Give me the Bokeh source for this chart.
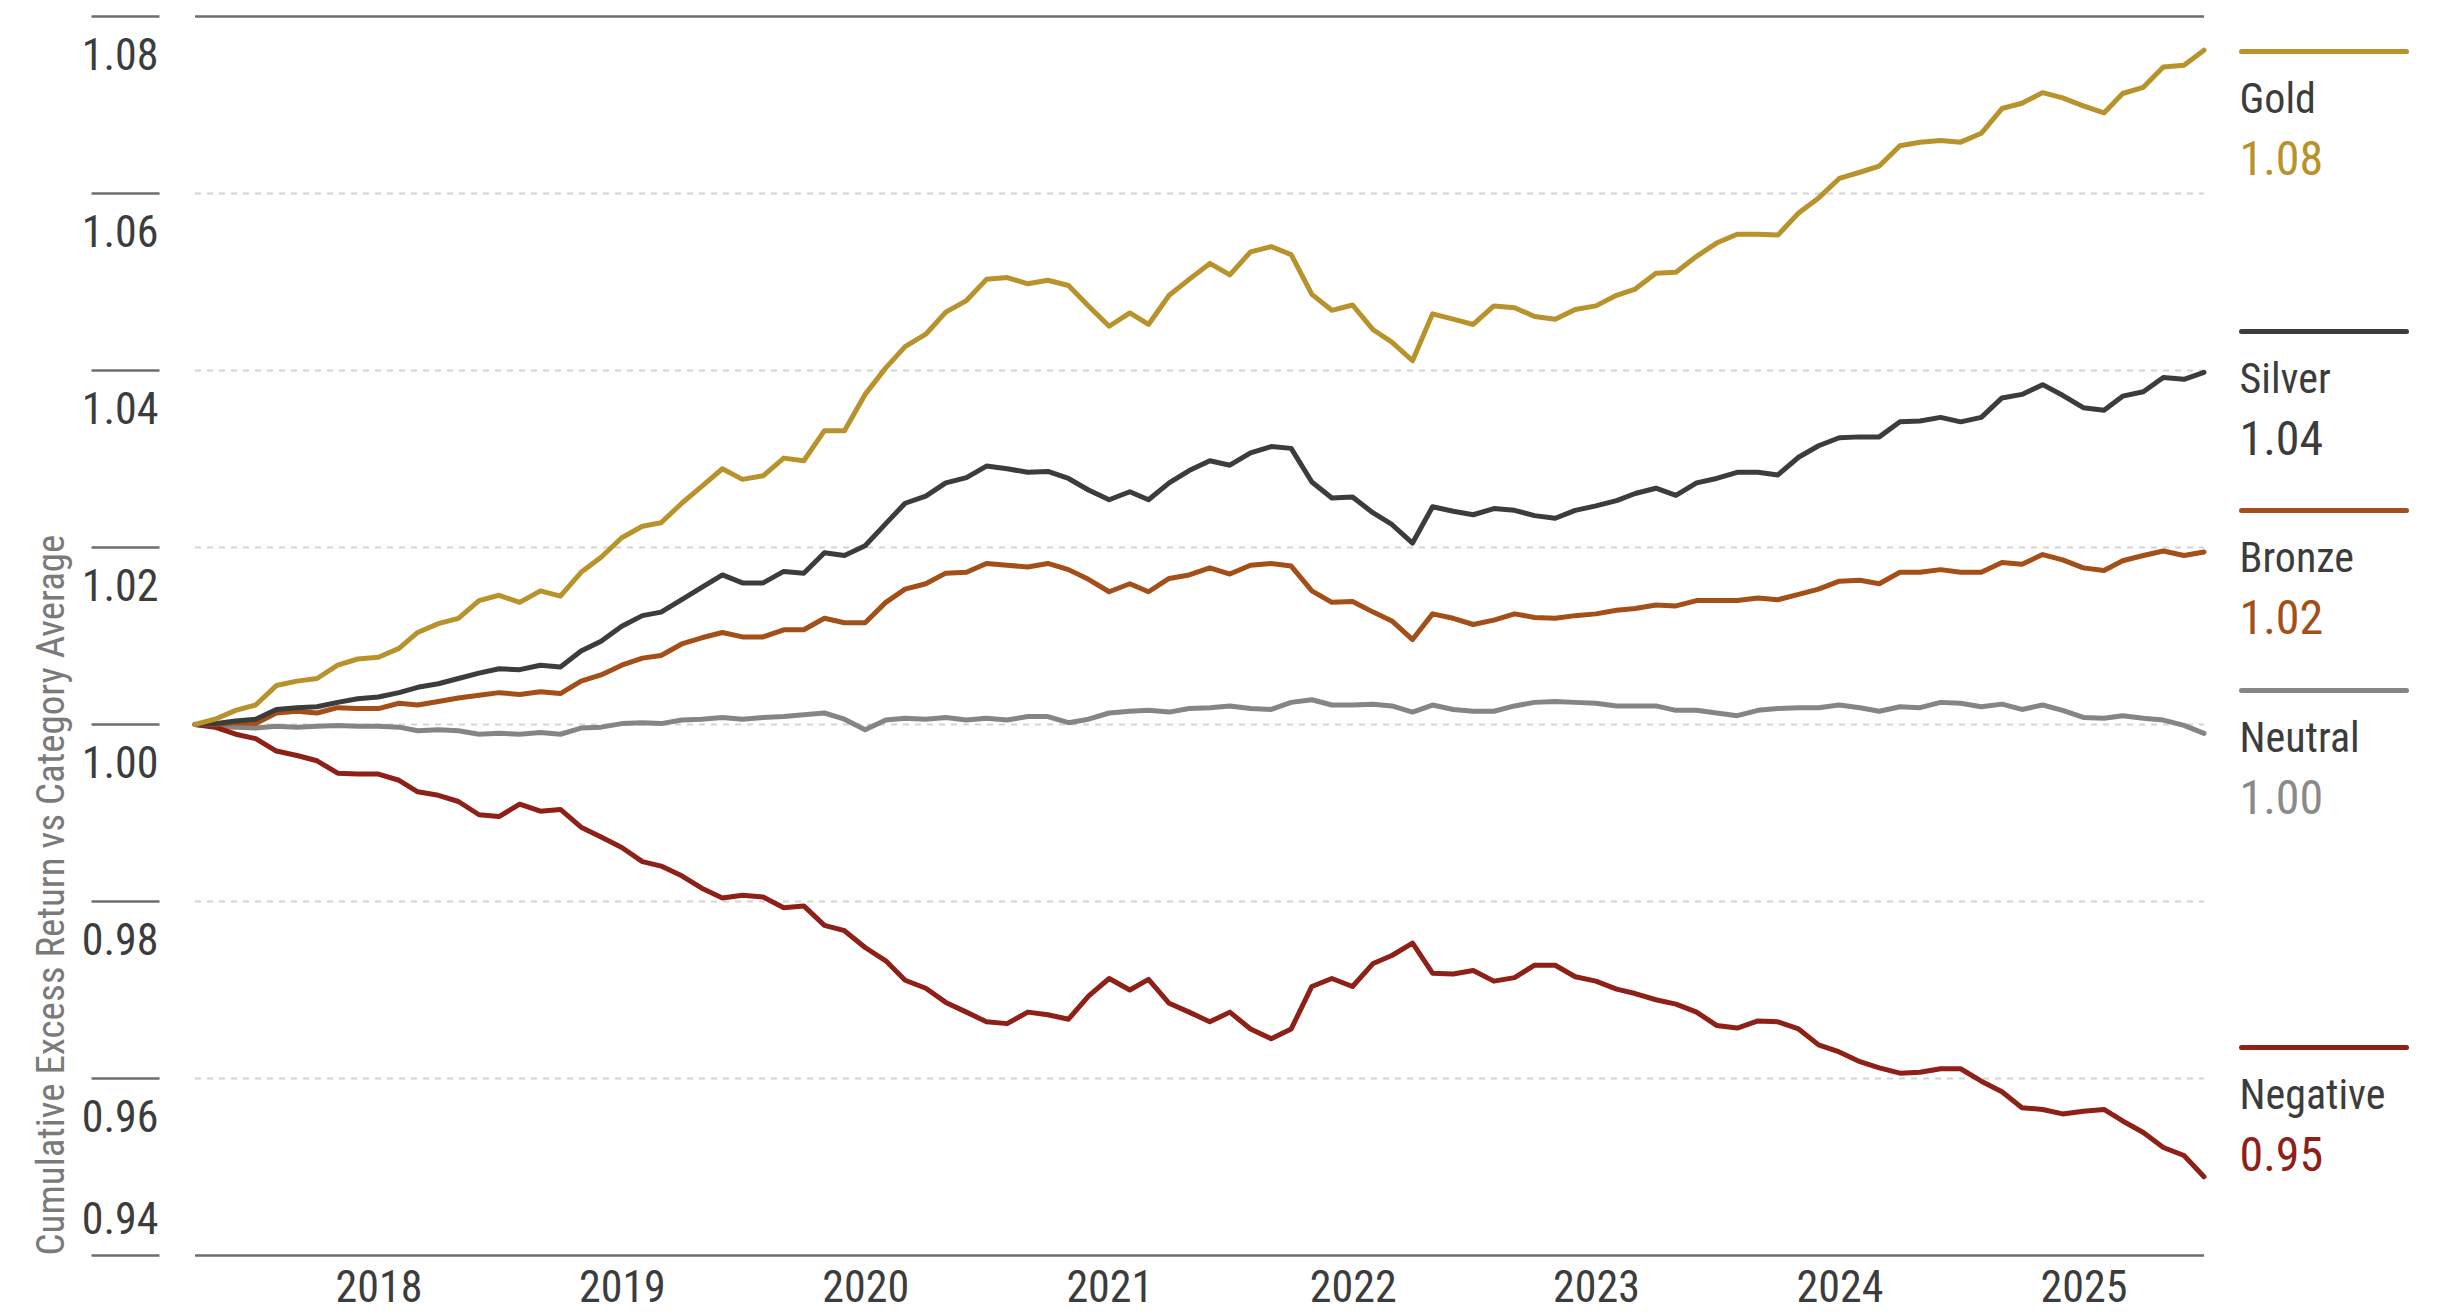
import math
import pandas as pd
from bokeh.plotting import figure
from bokeh.models import Range1d, FixedTicker, DatetimeTickFormatter
from bokeh.core.properties import value
from bokeh.embed import file_html
from bokeh.resources import INLINE

# ---------------- data ----------------
dates = pd.date_range("2017-03-31", periods=100, freq=pd.offsets.MonthEnd())

gold = [1.0000, 1.0006, 1.0016, 1.0022, 1.0044, 1.0049, 1.0052, 1.0067, 1.0074, 1.0076,
        1.0086, 1.0104, 1.0114, 1.0120, 1.0140, 1.0146, 1.0138, 1.0151, 1.0145, 1.0172,
        1.0189, 1.0211, 1.0224, 1.0228, 1.0250, 1.0269, 1.0289, 1.0277, 1.0281, 1.0301,
        1.0298, 1.0332, 1.0332, 1.0373, 1.0403, 1.0427, 1.0441, 1.0466, 1.0479, 1.0503,
        1.0505, 1.0498, 1.0502, 1.0496, 1.0473, 1.0450, 1.0465, 1.0452, 1.0485, 1.0503,
        1.0521, 1.0508, 1.0534, 1.0540, 1.0531, 1.0486, 1.0468, 1.0474, 1.0446, 1.0432,
        1.0411, 1.0464, 1.0458, 1.0452, 1.0473, 1.0471, 1.0461, 1.0458, 1.0469, 1.0473,
        1.0485, 1.0492, 1.0510, 1.0511, 1.0529, 1.0544, 1.0554, 1.0554, 1.0553, 1.0578,
        1.0595, 1.0617, 1.0624, 1.0631, 1.0654, 1.0658, 1.0660, 1.0658, 1.0668, 1.0696,
        1.0702, 1.0714, 1.0708, 1.0699, 1.0691, 1.0713, 1.0720, 1.0743, 1.0745, 1.0762]

silver = [1.0000, 1.0001, 1.0004, 1.0006, 1.0017, 1.0019, 1.0020, 1.0025, 1.0029, 1.0031,
          1.0036, 1.0042, 1.0046, 1.0052, 1.0058, 1.0063, 1.0062, 1.0067, 1.0065, 1.0083,
          1.0094, 1.0111, 1.0123, 1.0127, 1.0141, 1.0155, 1.0169, 1.0160, 1.0160, 1.0173,
          1.0171, 1.0194, 1.0191, 1.0202, 1.0227, 1.0250, 1.0258, 1.0273, 1.0279, 1.0292,
          1.0289, 1.0285, 1.0286, 1.0278, 1.0265, 1.0254, 1.0263, 1.0254, 1.0273, 1.0287,
          1.0298, 1.0293, 1.0307, 1.0314, 1.0312, 1.0274, 1.0256, 1.0257, 1.0239, 1.0226,
          1.0205, 1.0246, 1.0241, 1.0237, 1.0244, 1.0242, 1.0236, 1.0233, 1.0242, 1.0247,
          1.0253, 1.0261, 1.0267, 1.0259, 1.0273, 1.0278, 1.0285, 1.0285, 1.0282, 1.0302,
          1.0315, 1.0324, 1.0325, 1.0325, 1.0342, 1.0343, 1.0347, 1.0342, 1.0347, 1.0369,
          1.0373, 1.0384, 1.0372, 1.0358, 1.0355, 1.0371, 1.0376, 1.0392, 1.0390, 1.0398]

bronze = [1.0000, 1.0000, 1.0002, 1.0001, 1.0013, 1.0015, 1.0013, 1.0019, 1.0018, 1.0018,
          1.0024, 1.0022, 1.0026, 1.0030, 1.0033, 1.0036, 1.0034, 1.0037, 1.0035, 1.0049,
          1.0056, 1.0067, 1.0075, 1.0078, 1.0091, 1.0098, 1.0104, 1.0099, 1.0099, 1.0107,
          1.0107, 1.0120, 1.0115, 1.0115, 1.0138, 1.0153, 1.0159, 1.0171, 1.0172, 1.0182,
          1.0180, 1.0178, 1.0182, 1.0175, 1.0164, 1.0150, 1.0159, 1.0150, 1.0165, 1.0169,
          1.0177, 1.0170, 1.0180, 1.0182, 1.0179, 1.0151, 1.0138, 1.0139, 1.0127, 1.0117,
          1.0096, 1.0125, 1.0120, 1.0113, 1.0118, 1.0125, 1.0121, 1.0120, 1.0123, 1.0125,
          1.0129, 1.0131, 1.0135, 1.0134, 1.0140, 1.0140, 1.0140, 1.0143, 1.0141, 1.0147,
          1.0153, 1.0162, 1.0163, 1.0159, 1.0172, 1.0172, 1.0175, 1.0172, 1.0172, 1.0183,
          1.0181, 1.0192, 1.0186, 1.0177, 1.0174, 1.0185, 1.0191, 1.0196, 1.0191, 1.0195]

neutral = [1.0000, 0.9998, 0.9997, 0.9996, 0.9998, 0.9997, 0.9998, 0.9999, 0.9998, 0.9998,
           0.9997, 0.9993, 0.9994, 0.9993, 0.9989, 0.9990, 0.9989, 0.9991, 0.9989, 0.9996,
           0.9997, 1.0001, 1.0002, 1.0001, 1.0005, 1.0006, 1.0008, 1.0006, 1.0008, 1.0009,
           1.0011, 1.0013, 1.0006, 0.9994, 1.0005, 1.0007, 1.0006, 1.0008, 1.0005, 1.0007,
           1.0005, 1.0009, 1.0009, 1.0002, 1.0006, 1.0013, 1.0015, 1.0016, 1.0014, 1.0018,
           1.0019, 1.0021, 1.0018, 1.0017, 1.0025, 1.0028, 1.0022, 1.0022, 1.0023, 1.0021,
           1.0014, 1.0022, 1.0017, 1.0015, 1.0015, 1.0021, 1.0025, 1.0026, 1.0025, 1.0024,
           1.0021, 1.0021, 1.0021, 1.0016, 1.0016, 1.0013, 1.0010, 1.0016, 1.0018, 1.0019,
           1.0019, 1.0022, 1.0019, 1.0015, 1.0020, 1.0019, 1.0025, 1.0024, 1.0020, 1.0023,
           1.0017, 1.0022, 1.0016, 1.0008, 1.0007, 1.0010, 1.0007, 1.0005, 0.9999, 0.9990]

negative = [1.0000, 0.9997, 0.9989, 0.9984, 0.9970, 0.9965, 0.9959, 0.9945, 0.9944, 0.9944,
            0.9937, 0.9924, 0.9920, 0.9913, 0.9898, 0.9896, 0.9910, 0.9902, 0.9904, 0.9884,
            0.9873, 0.9861, 0.9845, 0.9840, 0.9829, 0.9815, 0.9804, 0.9807, 0.9805, 0.9793,
            0.9795, 0.9773, 0.9767, 0.9748, 0.9733, 0.9711, 0.9702, 0.9686, 0.9675, 0.9664,
            0.9662, 0.9675, 0.9672, 0.9667, 0.9693, 0.9713, 0.9700, 0.9712, 0.9685, 0.9675,
            0.9664, 0.9675, 0.9656, 0.9645, 0.9656, 0.9704, 0.9713, 0.9704, 0.9730, 0.9739,
            0.9753, 0.9719, 0.9718, 0.9722, 0.9710, 0.9714, 0.9728, 0.9728, 0.9715, 0.9710,
            0.9701, 0.9696, 0.9689, 0.9684, 0.9675, 0.9660, 0.9657, 0.9665, 0.9664, 0.9656,
            0.9638, 0.9630, 0.9619, 0.9612, 0.9606, 0.9607, 0.9611, 0.9611, 0.9597, 0.9585,
            0.9567, 0.9565, 0.9560, 0.9563, 0.9565, 0.9552, 0.9539, 0.9522, 0.9513, 0.9489]

series_names = ["Gold", "Silver", "Bronze", "Neutral", "Negative"]
series_values = [gold, silver, bronze, neutral, negative]

y_ticks = [0.94, 0.96, 0.98, 1.00, 1.02, 1.04, 1.06, 1.08]
y_tick_labels = ["0.94", "0.96", "0.98", "1.00", "1.02", "1.04", "1.06", "1.08"]
year_ticks = [2018, 2019, 2020, 2021, 2022, 2023, 2024, 2025]
y_title = "Cumulative Excess Return vs Category Average"

# ---------------- styles ----------------
FONT = "Roboto Condensed"
line_colors = ["#B8922B", "#3C3C3C", "#A34F17", "#858585", "#8E2018"]
value_colors = ["#B8922B", "#3C3C3C", "#A34F17", "#8A8A8A", "#8E2018"]
TEXT = "#3C3C3C"
AXIS = "#6E6E6E"
GRID = "#D4D4D4"

# ---------------- geometry (canvas pixels) ----------------
CANVAS_W, CANVAS_H = 2432, 1312
X0_PX, X1_PX = 194.5, 2203.5        # first / last date
Y_TOP_PX, Y_BOT_PX = 16.0, 1255.0   # 1.08 / 0.94

t0 = dates[0].value / 1e6
t1 = dates[-1].value / 1e6
mspp = (t1 - t0) / (X1_PX - X0_PX)
x_start = t0 - X0_PX * mspp
x_end = x_start + CANVAS_W * mspp
upp = (y_ticks[-1] - y_ticks[0]) / (Y_BOT_PX - Y_TOP_PX)
y_end = y_ticks[-1] + Y_TOP_PX * upp
y_start = y_end - CANVAS_H * upp


def px_x(px):
    return x_start + px * mspp


def px_y(py):
    return y_end - py * upp


p = figure(frame_width=CANVAS_W, frame_height=CANVAS_H, x_axis_type="datetime",
           y_axis_location=None, x_range=Range1d(x_start, x_end),
           y_range=Range1d(y_start, y_end), output_backend="svg",
           toolbar_location=None, min_border=0)
p.outline_line_color = None
p.grid.visible = False
p.background_fill_color = "white"
p.border_fill_color = "white"

xa = p.xaxis[0]
xa.fixed_location = y_ticks[0]
xa.ticker = FixedTicker(ticks=[pd.Timestamp(f"{y}-01-01").value / 1e6 for y in year_ticks])
xa.formatter = DatetimeTickFormatter(years="%Y", months="%Y", days="%Y", hours="%Y",
                                     hourmin="%Y", minutes="%Y", minsec="%Y",
                                     seconds="%Y", milliseconds="%Y", microseconds="%Y")
xa.axis_line_color = None
xa.major_tick_line_color = None
xa.minor_tick_line_color = None
xa.major_tick_out = 0
xa.major_tick_in = 0
xa.minor_tick_out = 0
xa.major_label_text_font = FONT
xa.major_label_text_font_size = "44px"
xa.major_label_text_color = TEXT
xa.major_label_standoff = 14

# dashed grid between frame lines
inner = y_ticks[1:-1]
p.segment(x0=[t0] * len(inner), y0=inner, x1=[t1] * len(inner), y1=inner,
          line_color=GRID, line_width=2, line_dash="6 6")
# solid top / bottom lines
edge = [y_ticks[0], y_ticks[-1]]
p.segment(x0=[t0] * 2, y0=edge, x1=[t1] * 2, y1=edge, line_color=AXIS, line_width=2.5)
# y tick marks
p.segment(x0=[px_x(91)] * len(y_ticks), y0=y_ticks, x1=[px_x(159)] * len(y_ticks),
          y1=y_ticks, line_color=AXIS, line_width=2.5)
# y tick labels: below each mark, except the lowest which sits above its mark
label_offsets = [-38] + [37] * (len(y_ticks) - 1)
p.text(x=[px_x(158)] * len(y_ticks), y=y_ticks, text=y_tick_labels, text_align="right",
       text_baseline="middle", y_offset=label_offsets, text_font=value(FONT),
       text_font_size="44px", text_color=TEXT)
# y title, bottom aligned with the axis
p.text(x=[px_x(50)], y=[y_ticks[0]], text=[y_title], angle=math.pi / 2,
       text_align="left", text_baseline="middle", text_font=value(FONT),
       text_font_size="39px", text_color="#7A7A7A")

# series lines
for i in [3, 4, 2, 1, 0]:
    p.line(dates, series_values[i], line_color=line_colors[i], line_width=5,
           line_join="round", line_cap="round")

# legend at the right
legend_py = [51, 331, 510, 690, 1047]
for i, name in enumerate(series_names):
    ly = px_y(legend_py[i])
    p.segment(x0=[px_x(2241)], y0=[ly], x1=[px_x(2406)], y1=[ly],
              line_color=line_colors[i], line_width=5, line_cap="round")
    p.text(x=[px_x(2239)], y=[ly], text=[name], text_align="left",
           text_baseline="middle", y_offset=47, text_font=value(FONT),
           text_font_size="42px", text_color=TEXT)
    p.text(x=[px_x(2239)], y=[ly], text=[f"{series_values[i][-1]:.2f}"],
           text_align="left", text_baseline="middle", y_offset=106,
           text_font=value(FONT), text_font_size="48px", text_color=value_colors[i])

open("out.html", "w").write(file_html(p, INLINE))
